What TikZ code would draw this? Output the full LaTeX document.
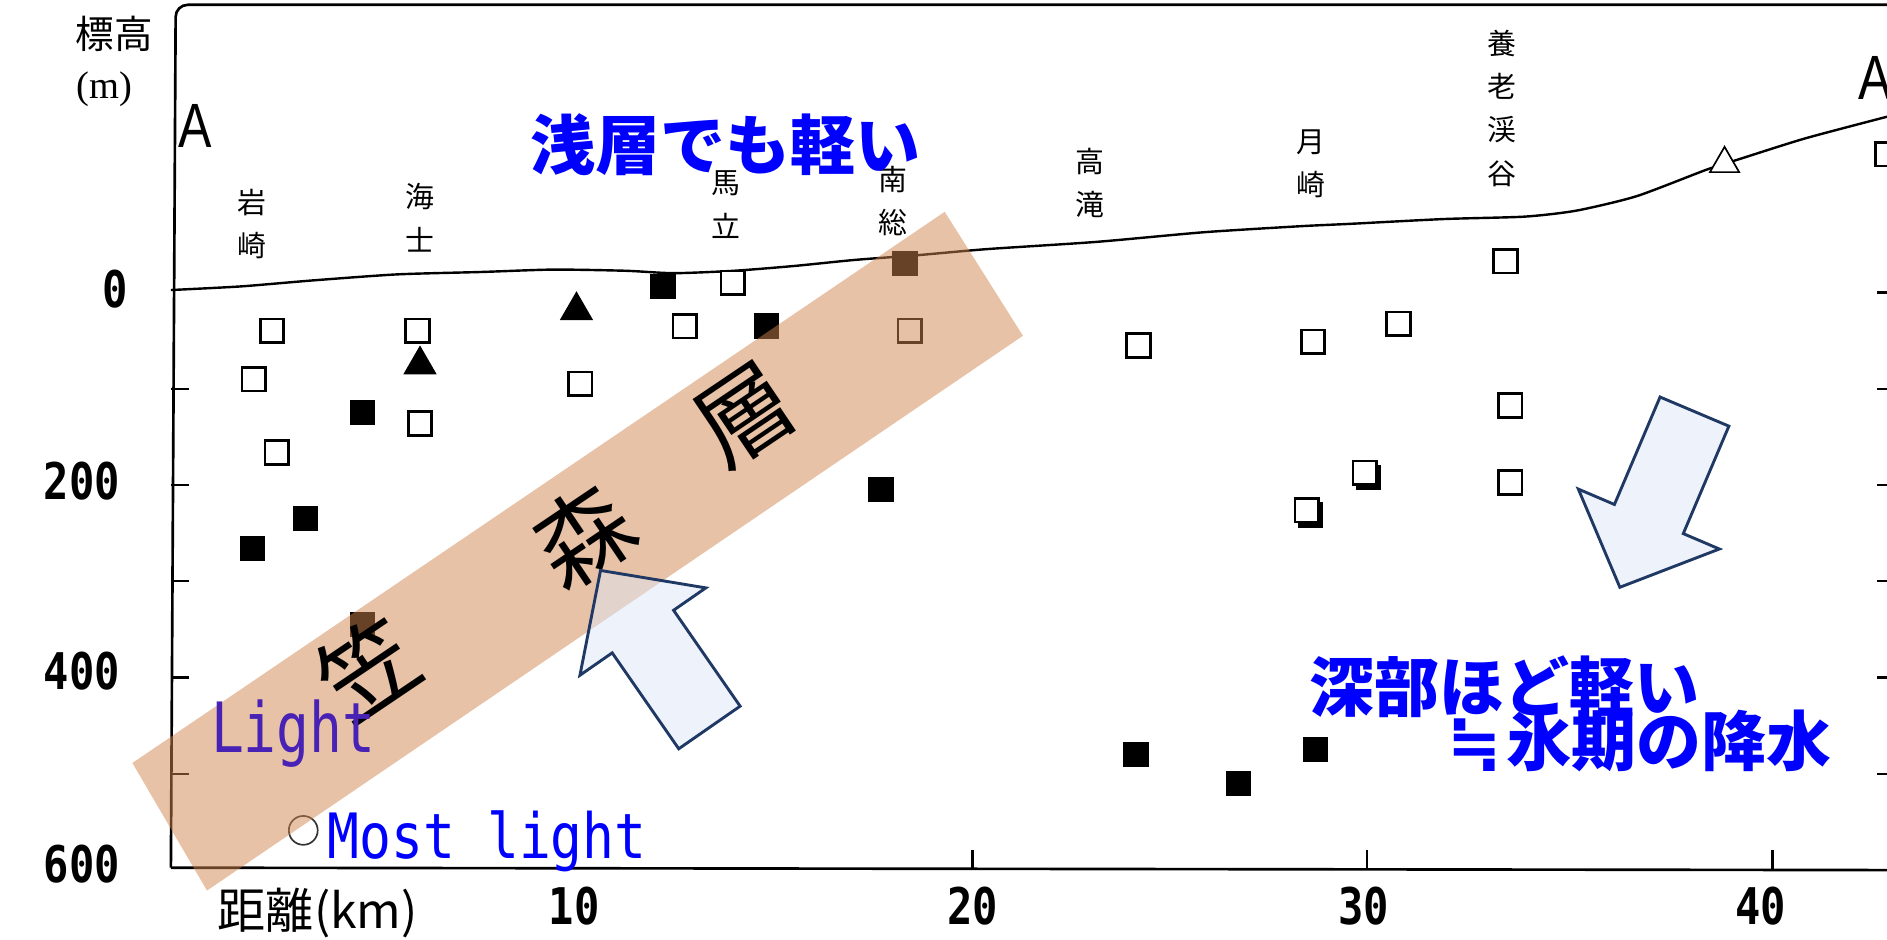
\documentclass[tikz,border=0pt]{standalone}
\usepackage{fontspec}
\setmainfont{Liberation Serif}
\newfontfamily\jp{Noto Sans CJK JP}
\newfontfamily\monof{DejaVu Sans Mono}
\newfontfamily\sansf{Liberation Sans}
\newfontfamily\symf{DejaVu Sans}
\usetikzlibrary{shapes.geometric}
\definecolor{bandc}{RGB}{209,133,77}
\definecolor{arrowline}{RGB}{31,56,100}
\definecolor{arrowfill}{RGB}{221,229,245}
\definecolor{lightc}{RGB}{72,34,180}
\begin{document}
\begin{tikzpicture}[x=0.5pt,y=-0.5pt,
  osq/.style={draw=black,line width=1.1pt,fill=white,minimum size=9.8pt,inner sep=0pt,outer sep=0pt},
  fsq/.style={fill=black,minimum size=10.5pt,inner sep=0pt,outer sep=0pt},
  ftri/.style={regular polygon,regular polygon sides=3,fill=black,minimum size=16pt,inner sep=0pt},
  otri/.style={regular polygon,regular polygon sides=3,draw=black,line width=0.7pt,fill=white,minimum size=14pt,inner sep=0pt},
  ocirc/.style={circle,draw=black!80,line width=0.7pt,minimum size=12pt,inner sep=0pt},
  place/.style={font=\jp\fontsize{12}{18}\selectfont,align=center,inner sep=0pt},
  num/.style={font=\monof\bfseries\fontsize{17.5}{17.5}\selectfont,inner sep=0pt},
  bluet/.style={font=\jp\bfseries\fontsize{27}{27}\selectfont,text=blue,inner sep=0pt},
  bandtxt/.style={font=\jp\fontsize{40}{40}\selectfont,rotate=34,inner sep=0pt},
  blockarrow/.style={draw=arrowline,line width=1.2pt,fill=arrowfill,fill opacity=0.5,line join=miter},
  axisline/.style={line width=1.1pt},
  tickline/.style={line width=1pt},
]
\useasboundingbox (0,0) rectangle (1568,781);
\clip (0,0) rectangle (1568,781);

% frame
\draw[axisline,rounded corners=5] (142,721) -- (146,4) -- (1568,4);
\draw[axisline] (142,721) -- (1568,723);
\foreach \yy in {323,403,483,563,643} \draw[tickline] (142,\yy) -- (157,\yy);
\foreach \yy in {243,323,403,483,563,643} \draw[tickline] (1560,\yy) -- (1568,\yy);
\foreach \xx in {808,1136,1473} \draw[tickline] (\xx,722) -- (\xx,706);

% ground surface
\draw[line width=1pt] plot[smooth,tension=0.4] coordinates {(142,241) (200,238) (260,233) (330,228) (400,226) (460,224) (520,225) (560,227) (610,225) (660,221) (710,216) (763,212) (820,207) (911,201) (1000,193) (1080,188) (1122,186) (1200,182) (1267,180) (1310,175) (1360,163) (1418,141) (1446,132) (1500,115) (1568,97)};

% markers
\foreach \x/\y [count=\i] in {210/456,254/431,301/343,301/519,551/238,637/271,752/219,732/407,944/627,1029/651,1093/623,1137/397,1089/428}
  \node[fsq] (f\i) at (\x,\y) {};
\foreach \x/\y [count=\i] in {226/275,211/315,230/376,347/275,349/352,482/319,609/235,569/271,756/275,946/287,1091/284,1162/269,1251/217,1255/337,1255/401,1568/128,1134/393,1086/424}
  \node[osq] (o\i) at (\x,\y) {};
\node[ftri] (t1) at (349,303) {};
\node[ftri] (t2) at (479,258) {};
\node[otri] (t3) at (1433,136) {};
\node[ocirc] (c1) at (252,690) {};

% place names
\node[place] (p1) at (209,186) {岩\\崎};
\node[place] (p2) at (349,181) {海\\士};
\node[place] (p3) at (603,170) {馬\\立};
\node[place] (p4) at (742,167) {南\\総};
\node[place] (p5) at (906,152) {高\\滝};
\node[place] (p6) at (1089,136) {月\\崎};
\node[place] (p7) at (1248,90) {養\\老\\渓\\谷};

% axis labels
\node[font=\jp\fontsize{16}{16}\selectfont,inner sep=0pt] (yl1) at (95,28) {標高};
\node[font=\fontsize{16}{16}\selectfont,inner sep=0pt] (yl2) at (87,74) {(m)};
\node[num] (n0) at (96,240) {\scalebox{1}[1.2]{0}};
\node[num] (n200) at (68,400) {\scalebox{1}[1.2]{200}};
\node[num] (n400) at (68,558) {\scalebox{1}[1.2]{400}};
\node[num] (n600) at (68,718) {\scalebox{1}[1.2]{600}};
\node[num] (k10) at (477,753) {\scalebox{1}[1.2]{10}};
\node[num] (k20) at (808,753) {\scalebox{1}[1.2]{20}};
\node[num] (k30) at (1133,753) {\scalebox{1}[1.2]{30}};
\node[num] (k40) at (1463,753) {\scalebox{1}[1.2]{40}};
\node[font=\jp\fontsize{20}{20}\selectfont,inner sep=0pt] (xl) at (264,759) {距離(km)};
\node[font=\sansf\fontsize{26}{26}\selectfont,inner sep=0pt] (a1) at (162,105) {\scalebox{0.8}[1]{A}};
\node[font=\sansf\fontsize{26}{26}\selectfont,inner sep=0pt] (a2) at (1558,65) {\scalebox{0.8}[1]{A}};

% Kasamori formation band
\fill[bandc,fill opacity=0.5] (110,634) -- (172,740) -- (850,279) -- (785,176) -- cycle;
\node[bandtxt] (b1) at (305,555) {笠};
\node[bandtxt] (b2) at (484,445) {森};
\node[bandtxt] (b3) at (619,345) {層};

% block arrows
\draw[blockarrow] (564.0,622.2) -- (508.7,542.5) -- (481.9,561.1) -- (499.0,474.0) -- (586.5,488.5) -- (559.7,507.1) -- (615.0,586.8) -- cycle;
\draw[blockarrow] (1379.4,329.9) -- (1341.5,419.2) -- (1311.5,406.4) -- (1346,488) -- (1428.7,456.2) -- (1398.7,443.4) -- (1436.6,354.1) -- cycle;

% annotations
\node[bluet] (s1) at (603,120) {浅層でも軽い};
\node[bluet] (s2) at (1250,571) {深部ほど軽い};
\node[bluet] (s3) at (1360,616) {\makebox[1em][c]{\symf\bfseries ≒}氷期の降水};
\node[font=\monof\fontsize{22.7}{22.7}\selectfont,text=lightc,inner sep=0pt,anchor=base west] (lt) at (175,625) {\scalebox{1}[1.27]{Light}};
\node[font=\monof\fontsize{22}{22}\selectfont,text=blue,inner sep=0pt,anchor=base west] (ml) at (272,713) {\scalebox{1}[1.18]{Most light}};
\end{tikzpicture}
\end{document}
